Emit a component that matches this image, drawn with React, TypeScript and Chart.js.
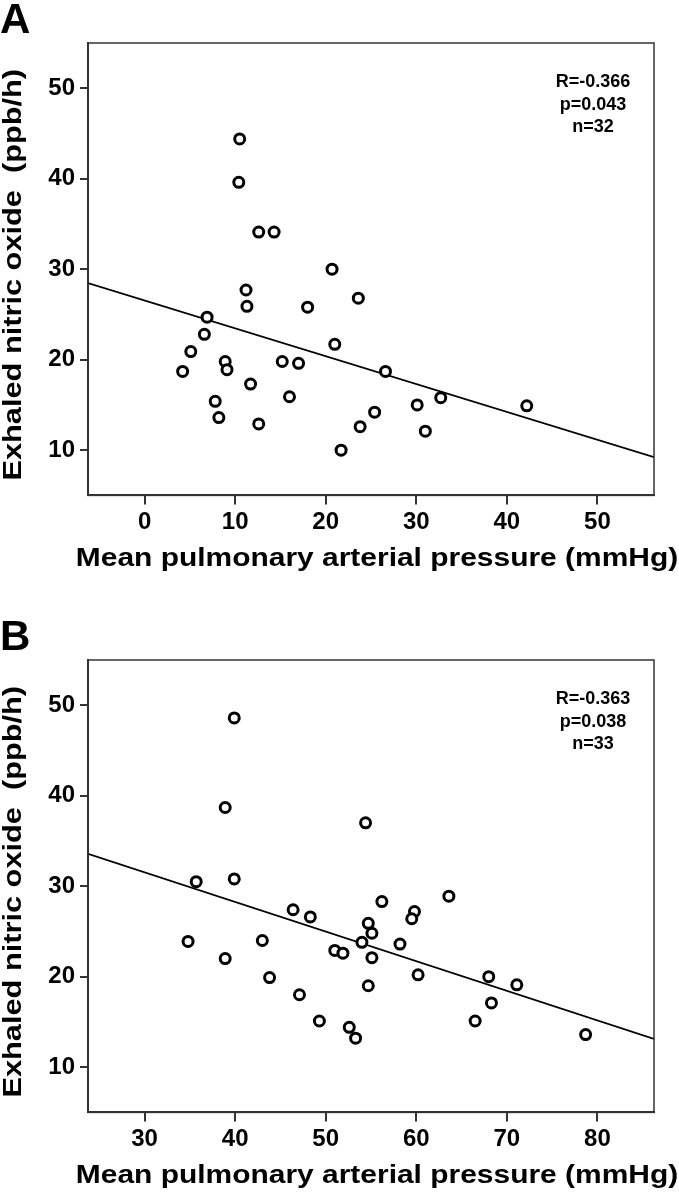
import React, { useEffect, useRef } from "react";
import { Chart, registerables } from "chart.js";

Chart.register(...registerables);

const FONT = '"Liberation Sans", Arial, Helvetica, sans-serif';
const X_TITLE = "Mean pulmonary arterial pressure (mmHg)";
const Y_TITLE = "Exhaled nitric oxide  (ppb/h)";

const yTicks = [10, 20, 30, 40, 50];
const yMin = 5;
const yMax = 55;

// Panel A
const xTicksA = [0, 10, 20, 30, 40, 50];
const xMinA = -6.25;
const xMaxA = 56.25;
const mpapA = [10.5, 10.4, 12.6, 14.3, 20.7, 6.9, 6.6, 5.1, 4.2, 8.9, 9.1, 7.8, 8.2, 11.2, 11.3, 11.7, 12.6, 15.2, 17.0, 16.0, 18.0, 21.0, 21.7, 23.6, 26.6, 25.4, 23.8, 30.1, 32.7, 31.0, 42.2];
const enoA = [44.4, 39.6, 34.1, 34.1, 30.0, 24.7, 22.8, 20.9, 18.7, 19.8, 18.9, 15.4, 13.6, 27.7, 25.9, 17.3, 12.9, 19.8, 19.6, 15.9, 25.8, 21.7, 10.0, 26.8, 18.7, 14.2, 12.6, 15.0, 15.8, 12.1, 14.9];
const fitA = { slope: -0.308, intercept: 26.54 };
const statsA = ["R=-0.366", "p=0.043", "n=32"];

// Panel B
const xTicksB = [30, 40, 50, 60, 70, 80];
const xMinB = 23.75;
const xMaxB = 86.25;
const mpapB = [39.9, 38.9, 35.7, 39.9, 54.4, 34.8, 38.9, 43.0, 43.8, 46.4, 48.3, 47.1, 49.3, 51.0, 56.2, 59.8, 59.5, 63.6, 54.7, 55.1, 54.0, 51.9, 55.1, 58.2, 60.2, 54.7, 52.6, 53.3, 68.0, 71.1, 68.3, 66.5, 78.7];
const enoB = [48.6, 38.7, 30.5, 30.8, 37.0, 23.9, 22.0, 24.0, 19.9, 27.4, 26.6, 18.0, 15.1, 22.9, 28.3, 27.2, 26.4, 28.9, 25.9, 24.8, 23.8, 22.6, 22.1, 23.6, 20.2, 19.0, 14.4, 13.2, 20.0, 19.1, 17.1, 15.1, 13.6];
const fitB = { slope: -0.3272, intercept: 41.35 };
const statsB = ["R=-0.363", "p=0.038", "n=33"];

const decorPlugin = {
  id: "decor",
  afterDraw(chart: any, _args: any, opts: any) {
    const { ctx, chartArea: a } = chart;
    ctx.save();
    ctx.strokeStyle = "#333";
    ctx.lineWidth = 1.5;
    ctx.strokeRect(a.left, a.top, a.right - a.left, a.bottom - a.top);

    ctx.fillStyle = "#000";
    ctx.textBaseline = "alphabetic";
    ctx.textAlign = "left";
    ctx.font = `bold 42px ${FONT}`;
    ctx.fillText(opts.letter, 0, a.top - 10);

    ctx.textAlign = "center";
    ctx.font = `bold 18px ${FONT}`;
    (opts.stats as string[]).forEach((s, i) => {
      ctx.fillText(s, a.right - 61, a.top + 44 + i * 22.7);
    });

    ctx.font = `bold 26.5px ${FONT}`;
    ctx.save();
    ctx.translate(377, a.bottom + 71);
    ctx.scale(1.13, 1);
    ctx.fillText(opts.xTitle, 0, 0);
    ctx.restore();

    ctx.save();
    ctx.translate(20.5, (a.top + a.bottom) / 2 + 5.5);
    ctx.rotate(-Math.PI / 2);
    ctx.scale(1.16, 1);
    ctx.fillText(opts.yTitle, 0, 0);
    ctx.restore();

    ctx.restore();
  },
};

type PanelProps = {
  top: number;
  height: number;
  letter: string;
  xs: number[];
  ys: number[];
  fit: { slope: number; intercept: number };
  xMin: number;
  xMax: number;
  xTicks: number[];
  stats: string[];
};

function Panel(p: PanelProps) {
  const ref = useRef<HTMLCanvasElement | null>(null);
  useEffect(() => {
    if (!ref.current) return;
    const pts = p.xs.map((x, i) => ({ x, y: p.ys[i] }));
    const line = [p.xMin, p.xMax].map((x) => ({ x, y: p.fit.intercept + p.fit.slope * x }));
    const chart = new Chart(ref.current, {
      type: "scatter",
      data: {
        datasets: [
          {
            data: pts,
            pointRadius: 5,
            pointBorderWidth: 3,
            borderColor: "#000",
            backgroundColor: "#fff",
            pointBackgroundColor: "#fff",
            pointBorderColor: "#000",
            showLine: false,
            order: 1,
          } as any,
          {
            data: line,
            showLine: true,
            pointRadius: 0,
            borderColor: "#000",
            borderWidth: 1.8,
            order: 2,
          } as any,
        ],
      },
      options: {
        animation: false,
        responsive: false,
        devicePixelRatio: 1,
        layout: { padding: { top: 43, left: 0, right: 25, bottom: 0 } },
        plugins: {
          legend: { display: false },
          tooltip: { enabled: false },
          decor: { letter: p.letter, stats: p.stats, xTitle: X_TITLE, yTitle: Y_TITLE },
        } as any,
        scales: {
          x: {
            type: "linear",
            min: p.xMin,
            max: p.xMax,
            afterBuildTicks: (s: any) => {
              s.ticks = p.xTicks.map((v) => ({ value: v }));
            },
            afterFit: (s: any) => {
              s.height = p.height - 43 - 452.4;
            },
            grid: { drawOnChartArea: false, drawTicks: true, tickLength: 9, color: "#333", lineWidth: 2 },
            border: { display: true, color: "#333", width: 2 },
            ticks: { color: "#000", padding: 4, font: { family: FONT, size: 24, weight: "bold" }, maxRotation: 0 },
          },
          y: {
            type: "linear",
            min: yMin,
            max: yMax,
            afterBuildTicks: (s: any) => {
              s.ticks = yTicks.map((v) => ({ value: v }));
            },
            afterFit: (s: any) => {
              s.width = 88;
            },
            grid: { drawOnChartArea: false, drawTicks: true, tickLength: 8, color: "#333", lineWidth: 2 },
            border: { display: true, color: "#333", width: 2 },
            ticks: { color: "#000", padding: 5, font: { family: FONT, size: 24, weight: "bold" } },
          },
        },
      },
      plugins: [decorPlugin],
    } as any);
    return () => chart.destroy();
  }, []);
  return (
    <canvas
      ref={ref}
      width={679}
      height={p.height}
      style={{ position: "absolute", left: 0, top: p.top, width: 679, height: p.height, display: "block" }}
    />
  );
}

export default function App() {
  return (
    <div style={{ position: "absolute", left: 0, top: 0, width: 679, height: 1196, background: "#fff", overflow: "hidden" }}>
      <Panel top={0} height={617} letter="A" xs={mpapA} ys={enoA} fit={fitA} xMin={xMinA} xMax={xMaxA} xTicks={xTicksA} stats={statsA} />
      <Panel top={617} height={579} letter="B" xs={mpapB} ys={enoB} fit={fitB} xMin={xMinB} xMax={xMaxB} xTicks={xTicksB} stats={statsB} />
    </div>
  );
}
